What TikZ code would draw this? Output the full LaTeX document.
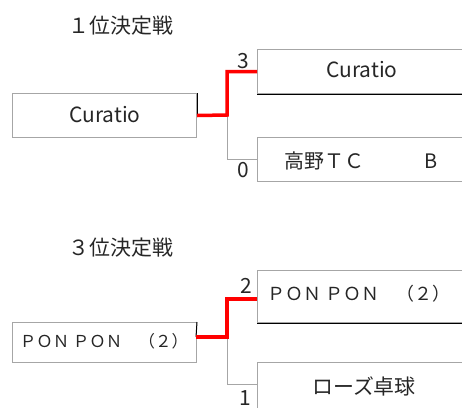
\documentclass[tikz,border=0pt]{standalone}
\usepackage{fontspec}
\setmainfont{Noto Sans CJK JP}
\definecolor{boxgray}{HTML}{A6A6A6}
\definecolor{txt}{HTML}{262626}
\begin{document}
\begin{tikzpicture}[x=1bp,y=-1bp,
  box/.style={draw=boxgray,line width=1bp,inner sep=0pt,anchor=north west},
  win/.style={draw=red,line width=3.5bp},
  lose/.style={draw=boxgray,line width=1bp},
  edgeblk/.style={draw=black,line width=1bp},
  lbl/.style={anchor=base,inner sep=0pt,text=txt,font=\fontsize{20}{24}\selectfont},
  big/.style={lbl,font=\fontsize{21}{24}\selectfont},
  num/.style={lbl,anchor=base east,font=\fontsize{21}{24}\selectfont},
  small/.style={lbl,font=\fontsize{16.5}{20}\selectfont}]
\useasboundingbox (0,0) rectangle (462,407);
\clip (0,0) rectangle (462,407);
% ---------- 1st place ----------
\node[big] (t1) at (121,33) {１位決定戦};
\node[box,minimum width=184bp,minimum height=44bp] (L1) at (12,93) {};
\node[box,minimum width=214bp,minimum height=44bp] (W1) at (257,49) {};
\node[box,minimum width=214bp,minimum height=44bp] (B1) at (257,137) {};
\draw[edgeblk] (W1.south west) -- (W1.south east);
\draw[edgeblk] (L1.north east) -- (L1.east);
\coordinate (J1) at (227,115);
\draw[lose] (J1) |- (B1.west);
\draw[win] (L1.east) -- (J1) |- (W1.west);
\node[big] (s1) at (362,77) {Curatio};
\node[big] (s2) at (105,122) {Curatio};
\node[lbl] (s3) at (361,168) {高野ＴＣ　　　B};
\node[num] (n3) at (249,68) {3};
\node[num] (n0) at (249,177) {0};
% ---------- 3rd place ----------
\node[big] (t2) at (121,255) {３位決定戦};
\node[box,minimum width=184bp,minimum height=40bp] (L2) at (12,322) {};
\node[box,minimum width=214bp,minimum height=52bp] (W2) at (257,270) {};
\node[box,minimum width=214bp,minimum height=60bp] (B2) at (257,362) {};
\draw[edgeblk] (W2.south west) -- (W2.south east);
\coordinate (L2e) at (196,337);
\coordinate (J2) at (227,337);
\coordinate (W2e) at (257,299);
\coordinate (B2e) at (257,384);
\draw[edgeblk] (L2.north east) -- (L2e);
\draw[lose] (J2) |- (B2e);
\draw[win] (L2e) -- (J2) |- (W2e);
\node[lbl,font=\fontsize{18}{22}\selectfont] (p1) at (359,300) {ＰＯＮ ＰＯＮ　（２）};
\node[small] (p2) at (104,347) {ＰＯＮ ＰＯＮ　（２）};
\node[big] (r1) at (364,394) {ローズ卓球};
\node[num] (n2) at (252,293) {2};
\node[num] (n1) at (251,405) {1};
\end{tikzpicture}
\end{document}
